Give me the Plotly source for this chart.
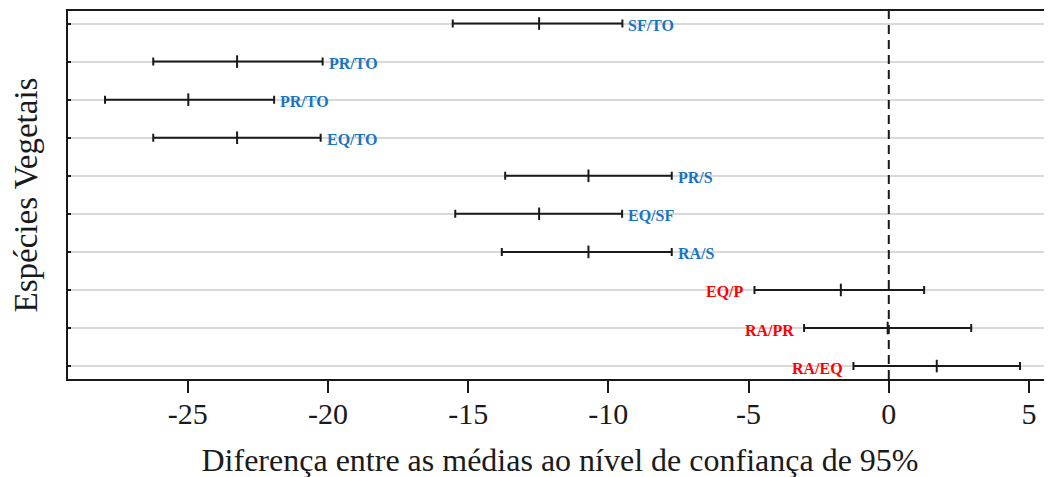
import plotly.graph_objects as go

labels = ["SF/TO", "PR/TO", "PR/TO", "EQ/TO", "PR/S", "EQ/SF", "RA/S", "EQ/P", "RA/PR", "RA/EQ"]
lower = [-15.55, -26.23, -27.95, -26.23, -13.68, -15.46, -13.80, -4.79, -3.02, -1.26]
mean = [-12.47, -23.24, -24.98, -23.24, -10.71, -12.47, -10.71, -1.71, -0.04, 1.71]
upper = [-9.50, -20.19, -21.92, -20.26, -7.74, -9.51, -7.74, 1.26, 2.94, 4.68]
significant = [True, True, True, True, True, True, True, False, False, False]
x_ticks = [-25, -20, -15, -10, -5, 0, 5]

n = len(labels)
rows = list(range(n, 0, -1))  # top row first

fig = go.Figure()
fig.add_trace(go.Scatter(
    x=mean, y=rows, mode="markers",
    marker=dict(symbol="line-ns", size=9, line=dict(width=2, color="#1a1a1a"), color="#1a1a1a"),
    error_x=dict(type="data", symmetric=False,
                 array=[u - m for u, m in zip(upper, mean)],
                 arrayminus=[m - l for m, l in zip(mean, lower)],
                 color="#1a1a1a", thickness=2, width=4),
    showlegend=False, hoverinfo="skip",
))

for i in range(n):
    if significant[i]:
        fig.add_annotation(x=upper[i], y=rows[i], text="<b>%s</b>" % labels[i],
                           xanchor="left", yanchor="middle", xshift=4, yshift=-2, showarrow=False,
                           font=dict(family="Liberation Serif", size=16, color="#1874c4"))
    else:
        fig.add_annotation(x=lower[i], y=rows[i], text="<b>%s</b>" % labels[i],
                           xanchor="right", yanchor="middle", xshift=-8, yshift=-2, showarrow=False,
                           font=dict(family="Liberation Serif", size=16, color="#ff0000"))

fig.add_shape(type="line", x0=0, x1=0, y0=0, y1=1, xref="x", yref="paper",
              line=dict(color="#1a1a1a", width=2, dash="9px,6px"))

fig.update_layout(
    width=1052, height=477,
    margin=dict(l=60, r=8, t=3, b=106, autoexpand=False),
    paper_bgcolor="white", plot_bgcolor="white",
    font=dict(family="Liberation Serif", color="#1a1a1a"),
    xaxis=dict(range=[-29.27, 5.82], tickvals=x_ticks, ticktext=[str(v) for v in x_ticks],
               automargin=False,
               showgrid=False, zeroline=False, showline=True, linecolor="#1a1a1a", linewidth=2,
               mirror=True, ticks="outside", ticklen=12, tickwidth=2, tickcolor="#1a1a1a",
               ticklabelstandoff=-5,
               tickfont=dict(family="Liberation Serif", size=30, color="#1a1a1a"),
               title=dict(text="Diferença entre as médias ao nível de confiança de 95%",
                          font=dict(family="Liberation Serif", size=32, color="#1a1a1a"), standoff=20)),
    yaxis=dict(range=[0.66, 10.33], tickvals=rows, showticklabels=False, automargin=False,
               showgrid=True, gridcolor="#d9d9d9", gridwidth=2, zeroline=False,
               showline=True, linecolor="#1a1a1a", linewidth=2, mirror=False,
               ticks="inside", ticklen=3, tickwidth=2, tickcolor="#1a1a1a",
               title=dict(text="Espécies Vegetais",
                          font=dict(family="Liberation Serif", size=33, color="#1a1a1a"), standoff=18)),
)

fig.write_html("out.html")
